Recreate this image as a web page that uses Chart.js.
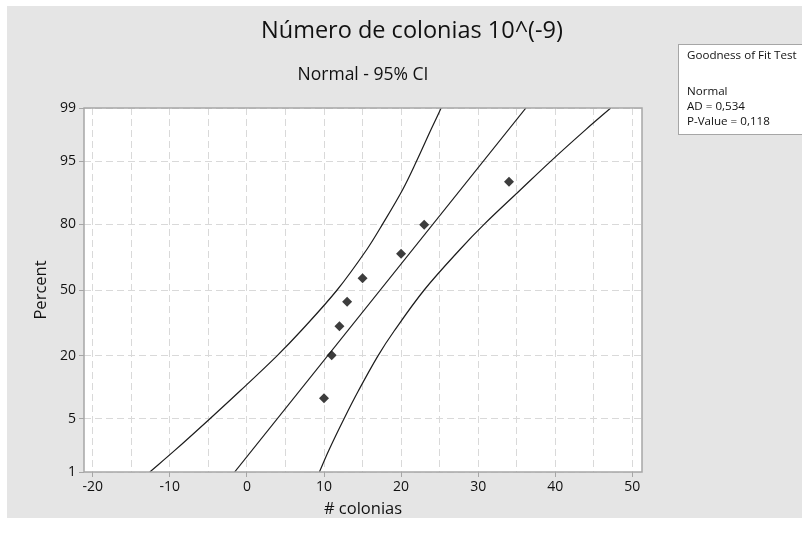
<!DOCTYPE html>
<html>
<head>
<meta charset="utf-8">
<script src="https://cdn.jsdelivr.net/npm/chart.js@4.4.0/dist/chart.umd.min.js"></script>
<style>
  html, body { margin: 0; padding: 0; background: #ffffff; }
  #wrap { width: 802px; height: 537px; }
</style>
</head>
<body>
<div id="wrap"><canvas id="chart" width="802" height="537"></canvas></div>
<script>
// normal probability plot (Minitab style)
const titleText = 'Número de colonias 10^(-9)';
const subtitleText = 'Normal - 95% CI';
const xTitle = '# colonias';
const yTitle = 'Percent';

const pctTicks = [1, 5, 20, 50, 80, 95, 99];
const xGridTicks = [-20, -15, -10, -5, 0, 5, 10, 15, 20, 25, 30, 35, 40, 45, 50];

// observations (x) and their plotted percent
const colonias = [10, 11, 12, 13, 15, 20, 23, 34];
const pctPoints = [8.3, 20.2, 32.1, 44.0, 56.0, 67.9, 79.8, 91.7];

// fitted line ends
const fitPct = [1, 99];
const fitX = [-1.6, 36.2];

// 95% CI band read at these percent levels
const bandPct = [1, 2, 5, 10, 20, 30, 50, 70, 80, 90, 95, 98, 99];
const lowerCI = [-12.6, -9.4, -4.8, -0.8, 3.9, 7.0, 11.7, 15.6, 17.6, 20.2, 22.0, 23.9, 25.2];
const upperCI = [9.4, 10.6, 12.6, 14.5, 17.0, 19.1, 23.0, 27.7, 30.8, 35.5, 39.4, 44.0, 47.2];

const gofLines = ['Goodness of Fit Test', '', 'Normal', 'AD = 0,534', 'P-Value = 0,118'];

const FONT = '"Open Sans", "Noto Sans", sans-serif';
const BG = '#e5e5e5';

// inverse normal cdf (Acklam) -> used for the probability axis
function probit(p){
  const a = [-39.69683028665376, 220.9460984245205, -275.9285104469687, 138.3577518672690, -30.66479806614716, 2.506628277459239];
  const b = [-54.47609879822406, 161.5858368580409, -155.6989798598866, 66.80131188771972, -13.28068155288572];
  const c = [-0.007784894002430293, -0.3223964580411365, -2.400758277161838, -2.549732539343734, 4.374664141464968, 2.938163982698783];
  const d = [0.007784695709041462, 0.3224671290700398, 2.445134137142996, 3.754408661907416];
  const pl = 0.02425;
  let q, r;
  if(p < pl){
    q = Math.sqrt(-2*Math.log(p));
    return (((((c[0]*q+c[1])*q+c[2])*q+c[3])*q+c[4])*q+c[5]) / ((((d[0]*q+d[1])*q+d[2])*q+d[3])*q+1);
  }
  if(p > 1-pl){
    q = Math.sqrt(-2*Math.log(1-p));
    return -(((((c[0]*q+c[1])*q+c[2])*q+c[3])*q+c[4])*q+c[5]) / ((((d[0]*q+d[1])*q+d[2])*q+d[3])*q+1);
  }
  q = p - 0.5; r = q*q;
  return (((((a[0]*r+a[1])*r+a[2])*r+a[3])*r+a[4])*r+a[5])*q / (((((b[0]*r+b[1])*r+b[2])*r+b[3])*r+b[4])*r+1);
}
const z = pct => probit(pct/100);

function pairs(xs, ps){ return xs.map((x,i)=>({x: x, y: z(ps[i])})); }

const zTickMap = {};
pctTicks.forEach(p => { zTickMap[z(p).toFixed(4)] = p; });

const decorPlugin = {
  id: 'decor',
  beforeDraw(chart){
    const ctx = chart.ctx, a = chart.chartArea;
    ctx.save();
    ctx.fillStyle = '#ffffff';
    ctx.fillRect(0, 0, chart.width, chart.height);
    ctx.fillStyle = BG;
    ctx.fillRect(7, 6, chart.width - 7, 512);
    ctx.fillStyle = '#ffffff';
    ctx.fillRect(a.left, a.top, a.right - a.left, a.bottom - a.top);
    ctx.restore();
  },
  afterDraw(chart){
    const ctx = chart.ctx, a = chart.chartArea;
    ctx.save();
    // plot frame
    ctx.strokeStyle = '#a6a6a6';
    ctx.lineWidth = 1.5;
    ctx.strokeRect(a.left, a.top, a.right - a.left, a.bottom - a.top);

    ctx.fillStyle = '#111111';
    ctx.textAlign = 'center';
    ctx.textBaseline = 'middle';
    ctx.font = '23.5px ' + FONT;
    ctx.fillText(titleText, 412, 31);
    ctx.font = '17.5px ' + FONT;
    ctx.fillText(subtitleText, (a.left + a.right)/2, 75);
    ctx.font = '16.5px ' + FONT;
    ctx.fillText(xTitle, (a.left + a.right)/2, 509);
    ctx.translate(41, 290);
    ctx.rotate(-Math.PI/2);
    ctx.fillText(yTitle, 0, 0);
    ctx.restore();

    // goodness of fit box
    ctx.save();
    ctx.fillStyle = '#ffffff';
    ctx.fillRect(678, 44, 130, 90);
    ctx.strokeStyle = '#a6a6a6';
    ctx.lineWidth = 1;
    ctx.strokeRect(678.5, 44.5, 130, 90);
    ctx.fillStyle = '#111111';
    ctx.font = '11.6px ' + FONT;
    ctx.textAlign = 'left';
    ctx.textBaseline = 'middle';
    const rows = [56, 74, 92, 107, 122];
    gofLines.forEach((t,i)=>{ if(t) ctx.fillText(t, 687, rows[i]); });
    ctx.restore();
  }
};

const lineStyle = { showLine: true, pointRadius: 0, pointHoverRadius: 0, borderColor: '#1c1c1c', borderWidth: 1.2, fill: false };

new Chart(document.getElementById('chart'), {
  type: 'scatter',
  data: {
    datasets: [
      Object.assign({ label: 'lower', data: pairs(lowerCI, bandPct), tension: 0.35 }, lineStyle),
      Object.assign({ label: 'upper', data: pairs(upperCI, bandPct), tension: 0.35 }, lineStyle),
      Object.assign({ label: 'fit', data: pairs(fitX, fitPct) }, lineStyle),
      {
        label: 'data', data: pairs(colonias, pctPoints),
        pointStyle: 'rectRot', pointRadius: 5, pointHoverRadius: 5,
        backgroundColor: '#3d3d3d', borderColor: '#3d3d3d', borderWidth: 0, showLine: false
      }
    ]
  },
  options: {
    responsive: false,
    animation: false,
    layout: { padding: { left: 0, top: 108, right: 160, bottom: 0 } },
    plugins: { legend: { display: false }, tooltip: { enabled: false }, title: { display: false } },
    scales: {
      x: {
        type: 'linear', min: -21.14, max: 51.26,
        afterBuildTicks: s => { s.ticks = xGridTicks.map(v => ({ value: v })); },
        afterFit: s => { s.height = 65; },
        ticks: {
          autoSkip: false, maxRotation: 0, padding: 2, color: '#111111',
          font: { family: FONT, size: 14 },
          callback: v => (v % 10 === 0 ? String(v) : '')
        },
        grid: {
          color: '#d9d9d9', lineWidth: 1, tickLength: 5,
          tickColor: c => (c.tick && c.tick.value % 10 === 0 ? '#a6a6a6' : 'rgba(0,0,0,0)')
        },
        border: { display: false, dash: [7, 4] }
      },
      y: {
        type: 'linear', min: z(1), max: z(99),
        afterBuildTicks: s => { s.ticks = pctTicks.map(p => ({ value: z(p) })); },
        afterFit: s => { s.width = 84; },
        ticks: {
          autoSkip: false, padding: 3, color: '#111111',
          font: { family: FONT, size: 14 },
          callback: v => { const k = Number(v).toFixed(4); return zTickMap[k] !== undefined ? String(zTickMap[k]) : ''; }
        },
        grid: { color: '#d9d9d9', lineWidth: 1, tickLength: 5, tickColor: '#a6a6a6' },
        border: { display: false, dash: [7, 4] }
      }
    }
  },
  plugins: [decorPlugin]
});
</script>
</body>
</html>
